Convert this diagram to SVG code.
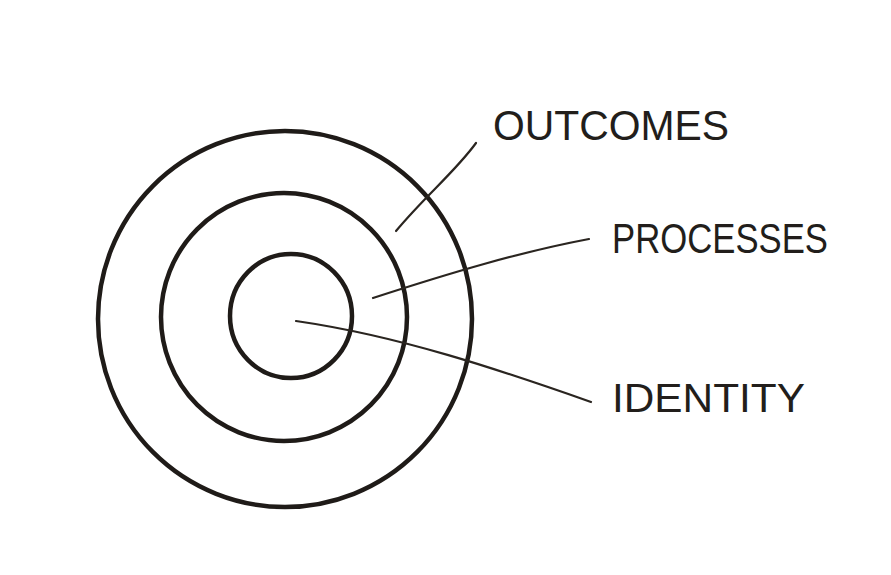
<svg xmlns="http://www.w3.org/2000/svg" width="891" height="575" viewBox="0 0 891 575">
<style>
.ring{fill:none;stroke:#1f1b18;stroke-width:4.5}
.lead{fill:none;stroke:#2a2520;stroke-width:2.2;stroke-linecap:round}
.lbl{font-family:"Liberation Sans","DejaVu Sans",sans-serif;font-size:43px;fill:#221e1b}
</style>
<rect width="891" height="575" fill="#ffffff"/>
<g id="outer-ring"><ellipse class="ring" cx="285" cy="319" rx="187" ry="188"/></g>
<g id="middle-ring"><ellipse class="ring" cx="284" cy="317" rx="123" ry="124"/></g>
<g id="inner-ring"><ellipse class="ring" cx="291" cy="316" rx="61" ry="62"/></g>
<g id="connectors">
<path class="lead" d="M396 231 C425 196 455 172 476 143"/>
<path class="lead" d="M373 298 C450 273 520 252 589 239"/>
<path class="lead" d="M296 321 C400 336 500 370 591 402"/>
</g>
<g id="label-outcomes"><text class="lbl" x="493" y="140" textLength="236" lengthAdjust="spacingAndGlyphs">OUTCOMES</text></g>
<g id="label-processes"><text class="lbl" x="612" y="253" textLength="216" lengthAdjust="spacingAndGlyphs">PROCESSES</text></g>
<g id="label-identity"><text class="lbl" x="612" y="412" textLength="193" lengthAdjust="spacingAndGlyphs" style="font-size:41px">IDENTITY</text></g>
</svg>
